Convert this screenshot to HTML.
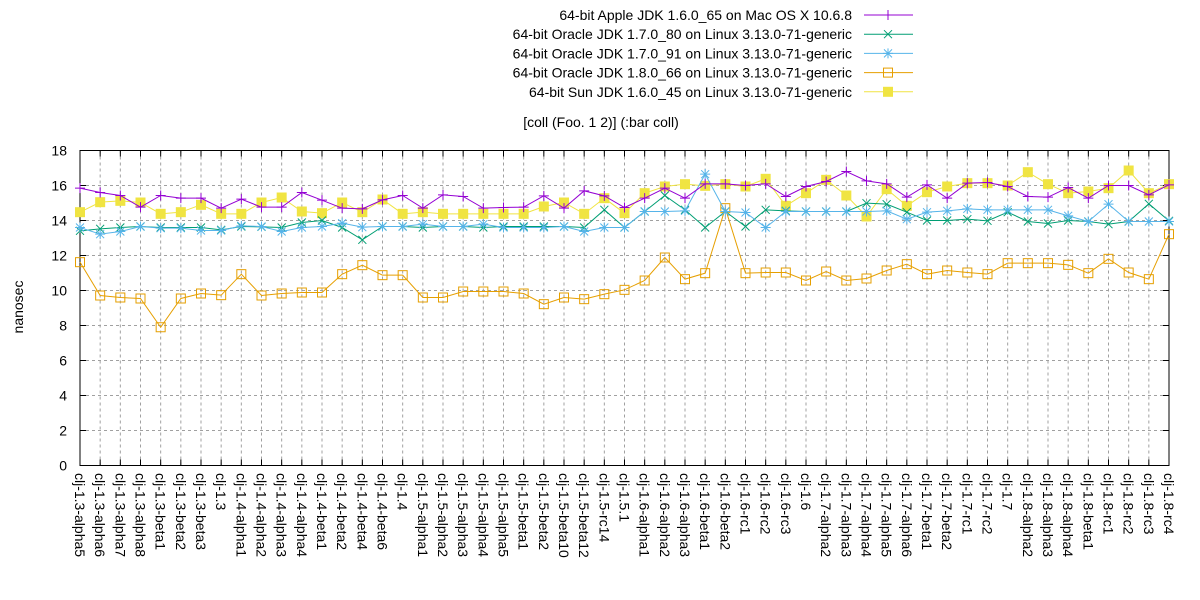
<!DOCTYPE html>
<html><head><meta charset="utf-8"><style>
html,body{margin:0;padding:0;background:#fff;}
svg{display:block;font-family:"Liberation Sans",Arial,sans-serif;}
</style></head><body>
<svg id="c" width="1200" height="600" viewBox="0 0 1200 600" xmlns="http://www.w3.org/2000/svg"></svg>
<script>
const S=document.getElementById('c');const NS='http://www.w3.org/2000/svg';
function el(t,a,txt){const e=document.createElementNS(NS,t);for(const k in a)e.setAttribute(k,a[k]);if(txt!==undefined)e.textContent=txt;S.appendChild(e);return e;}
const L=80,R=1169,T=150.5,N=55,dx=(R-L)/54,U=17.5,B=T+18*U;
const X=i=>L+i*dx, Y=v=>T+(18-v)*U;
const labels=["1.3-alpha5","1.3-alpha6","1.3-alpha7","1.3-alpha8","1.3-beta1","1.3-beta2","1.3-beta3","1.3","1.4-alpha1","1.4-alpha2","1.4-alpha3","1.4-alpha4","1.4-beta1","1.4-beta2","1.4-beta4","1.4-beta6","1.4","1.5-alpha1","1.5-alpha2","1.5-alpha3","1.5-alpha4","1.5-alpha5","1.5-beta1","1.5-beta2","1.5-beta10","1.5-beta12","1.5-rc14","1.5.1","1.6-alpha1","1.6-alpha2","1.6-alpha3","1.6-beta1","1.6-beta2","1.6-rc1","1.6-rc2","1.6-rc3","1.6","1.7-alpha2","1.7-alpha3","1.7-alpha4","1.7-alpha5","1.7-alpha6","1.7-beta1","1.7-beta2","1.7-rc1","1.7-rc2","1.7","1.8-alpha2","1.8-alpha3","1.8-alpha4","1.8-beta1","1.8-rc1","1.8-rc2","1.8-rc3","1.8-rc4"];
for(let v=2;v<18;v+=2)el('line',{x1:L,x2:R,y1:Y(v),y2:Y(v),stroke:'#a0a0a0','stroke-dasharray':'3,3','stroke-width':1});
for(let i=1;i<54;i++)el('line',{x1:X(i),x2:X(i),y1:T,y2:B,stroke:'#a0a0a0','stroke-dasharray':'3,3','stroke-width':1});
for(let v=0;v<=18;v+=2){el('line',{x1:L,x2:L+6,y1:Y(v),y2:Y(v),stroke:'#000'});el('line',{x1:R,x2:R-6,y1:Y(v),y2:Y(v),stroke:'#000'});
el('text',{x:67,y:Y(v)+5,'text-anchor':'end','font-size':14},String(v));}
for(let i=0;i<N;i++){el('line',{x1:X(i),x2:X(i),y1:B,y2:B-6,stroke:'#000'});el('line',{x1:X(i),x2:X(i),y1:T,y2:T+6,stroke:'#000'});
el('text',{transform:`translate(${X(i)-5},473) rotate(90)`,'font-size':14},'clj-'+labels[i]);}
el('rect',{x:L,y:T,width:R-L,height:B-T,fill:'none',stroke:'#000'});
el('text',{transform:'translate(23,307) rotate(-90)','text-anchor':'middle','font-size':14},'nanosec');
el('text',{x:601,y:127,'text-anchor':'middle','font-size':14},'[coll (Foo. 1 2)] (:bar coll)');
const cv=y=>16-(y-142)/52.5;
const purple=[150,163,172,207,172,180,180,210,183,207,207,163,186,210,212,185,172,210,170,175,210,208,207,173,210,158,173,208,180,150,180,137,137,142,137,175,145,130,100,128,137,177,140,180,135,133,145,175,177,148,180,142,142,170,140].map(cv);
const yellow=[222,192,188,193,227,222,200,227,227,193,178,220,225,193,222,184,227,222,227,227,227,227,227,205,193,227,180,225,165,145,138,143,138,145,122,203,165,125,172,235,153,203,162,145,135,135,142,102,138,165,160,150,97,165,138].map(cv);
const green=[278,272,268,265,268,268,268,275,265,266,268,253,247,268,305,265,265,268,265,265,268,265,265,265,265,268,215,268,220,172,215,268,220,265,215,218,220,220,220,195,198,222,247,247,243,248,222,250,256,247,250,258,250,197,248].map(cv);
const cyan=[268,288,280,265,270,270,277,277,263,265,280,268,265,255,267,265,265,258,265,265,258,268,268,268,265,280,268,268,220,220,218,108,220,223,268,220,220,220,220,220,218,243,222,218,212,215,215,215,215,233,250,198,250,250,250].map(cv);
const orange=[372,472,478,481,0,481,466,471,408,472,466,463,463,408,381,411,411,478,478,460,460,460,466,498,478,483,468,455,427,358,423,405,210,405,403,403,427,400,427,421,397,378,408,397,403,408,375,375,375,380,405,362,403,423,288].map(cv);orange[4]=7.9;
function mark(type,c,x,y){
 if(type=='plus'){el('path',{d:`M${x-5} ${y}h10M${x} ${y-5}v10`,stroke:c,fill:'none'});}
 else if(type=='x'){el('path',{d:`M${x-4} ${y-4}l8 8M${x-4} ${y+4}l8 -8`,stroke:c,fill:'none'});}
 else if(type=='star'){el('path',{d:`M${x-5} ${y}h10M${x} ${y-5}v10M${x-4} ${y-4}l8 8M${x-4} ${y+4}l8 -8`,stroke:c,fill:'none'});}
 else if(type=='osq'){el('rect',{x:x-4.5,y:y-4.5,width:9,height:9,stroke:c,fill:'none'});}
 else if(type=='fsq'){el('rect',{x:x-5,y:y-5,width:10,height:10,fill:c});}
}
function series(d,c,type){el('polyline',{points:d.map((v,i)=>X(i)+','+Y(v)).join(' '),fill:'none',stroke:c,'stroke-width':1});d.forEach((v,i)=>mark(type,c,X(i),Y(v)));}
series(orange,'#e69f00','osq');
series(yellow,'#f0e442','fsq');
series(green,'#009e73','x');
series(cyan,'#56b4e9','star');
series(purple,'#9400d3','plus');
const leg=[["64-bit Apple JDK 1.6.0_65 on Mac OS X 10.6.8",'#9400d3','plus'],["64-bit Oracle JDK 1.7.0_80 on Linux 3.13.0-71-generic",'#009e73','x'],["64-bit Oracle JDK 1.7.0_91 on Linux 3.13.0-71-generic",'#56b4e9','star'],["64-bit Oracle JDK 1.8.0_66 on Linux 3.13.0-71-generic",'#e69f00','osq'],["64-bit Sun JDK 1.6.0_45 on Linux 3.13.0-71-generic",'#f0e442','fsq']];
leg.forEach((l,k)=>{const y=15+k*19.2;el('text',{x:852,y:y+5,'text-anchor':'end','font-size':14},l[0]);
el('line',{x1:864,x2:913,y1:y,y2:y,stroke:l[1]});mark(l[2],l[1],888,y);});
</script>
</body></html>
